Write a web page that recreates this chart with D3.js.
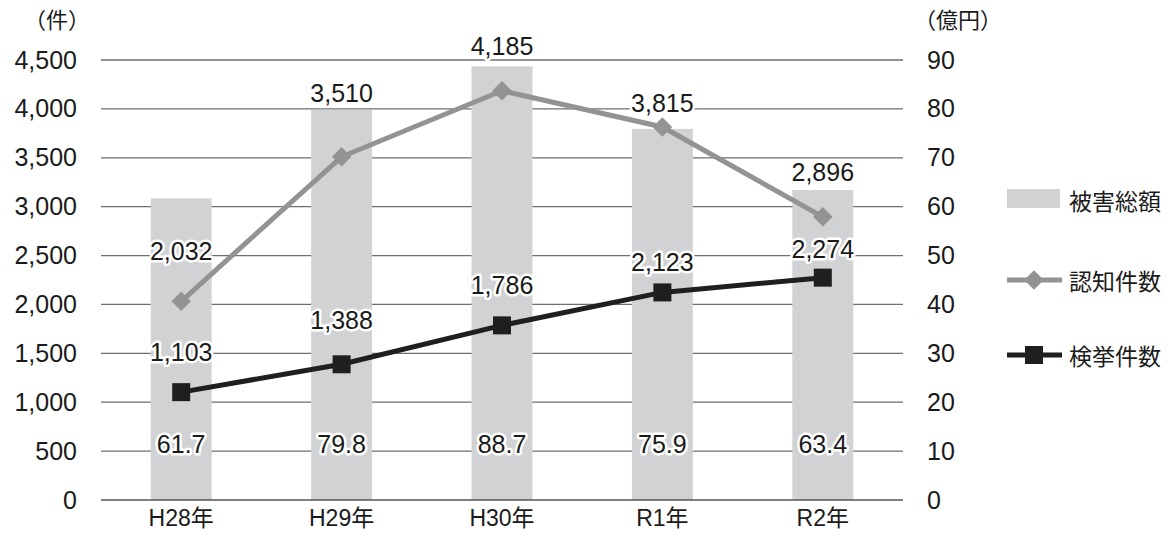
<!DOCTYPE html>
<html>
<head>
<meta charset="utf-8">
<script src="https://cdn.jsdelivr.net/npm/d3@7/dist/d3.min.js"></script>
<style>
  html, body { margin: 0; padding: 0; background: #fff; }
  svg { display: block; font-family: "Liberation Sans", Arial, "Noto Sans CJK JP", sans-serif; }
  .halo { paint-order: stroke; stroke: #fff; stroke-width: 5px; stroke-linejoin: round; }
</style>
</head>
<body>
<svg id="chart" width="1168" height="536"></svg>
<script>
// Years on the category axis
const years = ["H28年", "H29年", "H30年", "R1年", "R2年"];
// 被害総額 (億円), right axis
const damage = [61.7, 79.8, 88.7, 75.9, 63.4];
// 認知件数 (件), left axis
const recognized = [2032, 3510, 4185, 3815, 2896];
// 検挙件数 (件), left axis
const cleared = [1103, 1388, 1786, 2123, 2274];
// Axis ticks
const leftTicks = [0, 500, 1000, 1500, 2000, 2500, 3000, 3500, 4000, 4500];
const rightTicks = [0, 10, 20, 30, 40, 50, 60, 70, 80, 90];

// Vertical nudges for the value labels of each line
const recognizedLabelDy = [-50, -64, -45, -24, -45];
const clearedLabelDy = [-40, -44, -40, -30, -29];

const svg = d3.select("#chart");
const plot = { left: 101, right: 903, top: 60, bottom: 500 };
const jpFont = '"Noto Sans CJK JP", "Liberation Sans", sans-serif';
const numFont = '"Liberation Sans", Arial, sans-serif';
const mixFont = '"Liberation Sans", Arial, "Noto Sans CJK JP", sans-serif';
const ink = "#1a1a1a";

const x = d3.scaleBand().domain(years).range([plot.left, plot.right]).padding(0);
const yL = d3.scaleLinear().domain([0, 4500]).range([plot.bottom, plot.top]);
const yR = d3.scaleLinear().domain([0, 90]).range([plot.bottom, plot.top]);
const cx = d => x(d) + x.bandwidth() / 2;
const barW = x.bandwidth() * 0.38;
const fmt = d3.format(",");

// Horizontal gridlines
svg.append("g").selectAll("line").data(leftTicks.filter(t => t > 0)).join("line")
  .attr("x1", plot.left).attr("x2", plot.right)
  .attr("y1", d => yL(d)).attr("y2", d => yL(d))
  .attr("stroke", "#6e6e6e").attr("stroke-width", 1.3);

// Left axis labels
const leftAxis = d3.axisLeft(yL).tickValues(leftTicks).tickFormat(fmt).tickSize(0).tickPadding(24);
const gl = svg.append("g").attr("transform", `translate(${plot.left},0)`).call(leftAxis);
gl.select(".domain").remove();
gl.selectAll("text").attr("font-family", numFont).attr("font-size", 25).attr("fill", ink);

// Right axis labels
const rightAxis = d3.axisRight(yR).tickValues(rightTicks).tickSize(0).tickPadding(24);
const gr = svg.append("g").attr("transform", `translate(${plot.right},0)`).call(rightAxis);
gr.select(".domain").remove();
gr.selectAll("text").attr("font-family", numFont).attr("font-size", 25).attr("fill", ink)
  .attr("text-anchor", "start");

// Unit captions
svg.append("text").attr("x", 57).attr("y", 18).attr("text-anchor", "middle").attr("dominant-baseline", "central")
  .attr("font-family", jpFont).attr("font-size", 22).attr("fill", ink).text("（件）");
svg.append("text").attr("x", 958).attr("y", 18).attr("text-anchor", "middle").attr("dominant-baseline", "central")
  .attr("font-family", jpFont).attr("font-size", 22).attr("fill", ink).text("（億円）");

// Bars: 被害総額
svg.append("g").selectAll("rect").data(years).join("rect")
  .attr("x", (d) => cx(d) - barW / 2)
  .attr("width", barW)
  .attr("y", (d, i) => yR(damage[i]))
  .attr("height", (d, i) => plot.bottom - yR(damage[i]))
  .attr("fill", "#d1d2d4");

// Baseline
svg.append("line").attr("x1", plot.left).attr("x2", plot.right)
  .attr("y1", plot.bottom).attr("y2", plot.bottom)
  .attr("stroke", "#555").attr("stroke-width", 1.6);

// Category labels
svg.append("g").selectAll("text").data(years).join("text")
  .attr("x", d => cx(d)).attr("y", 518).attr("text-anchor", "middle").attr("dominant-baseline", "central")
  .attr("font-family", mixFont).attr("font-size", 23).attr("fill", ink).text(d => d);

// Line: 認知件数
const lineRec = d3.line().x((d, i) => cx(years[i])).y(d => yL(d));
svg.append("path").datum(recognized).attr("d", lineRec)
  .attr("fill", "none").attr("stroke", "#939393").attr("stroke-width", 5);
svg.append("g").selectAll("path").data(recognized).join("path")
  .attr("d", d3.symbol().type(d3.symbolSquare).size(190))
  .attr("transform", (d, i) => `translate(${cx(years[i])},${yL(d)}) rotate(45)`)
  .attr("fill", "#939393");

// Line: 検挙件数
const lineClr = d3.line().x((d, i) => cx(years[i])).y(d => yL(d));
svg.append("path").datum(cleared).attr("d", lineClr)
  .attr("fill", "none").attr("stroke", "#1f1f1f").attr("stroke-width", 5);
svg.append("g").selectAll("rect").data(cleared).join("rect")
  .attr("x", (d, i) => cx(years[i]) - 9).attr("y", d => yL(d) - 9)
  .attr("width", 18).attr("height", 18).attr("fill", "#1f1f1f");

// Value labels
const labels = svg.append("g").attr("font-family", numFont).attr("font-size", 25)
  .attr("fill", ink).attr("text-anchor", "middle").attr("dominant-baseline", "central");

labels.selectAll("text.rec").data(recognized).join("text").attr("class", "rec halo")
  .attr("x", (d, i) => cx(years[i])).attr("y", (d, i) => yL(d) + recognizedLabelDy[i])
  .text(d => fmt(d));

labels.selectAll("text.clr").data(cleared).join("text").attr("class", "clr halo")
  .attr("x", (d, i) => cx(years[i])).attr("y", (d, i) => yL(d) + clearedLabelDy[i])
  .text(d => fmt(d));

labels.selectAll("text.dmg").data(damage).join("text").attr("class", "dmg halo")
  .attr("x", (d, i) => cx(years[i])).attr("y", plot.bottom - 56)
  .text(d => d.toFixed(1));

// Legend
const legend = svg.append("g").attr("font-family", jpFont).attr("font-size", 23).attr("fill", ink);
legend.append("rect").attr("x", 1007).attr("y", 189).attr("width", 53).attr("height", 19).attr("fill", "#d1d2d4");
legend.append("text").attr("x", 1069).attr("y", 200).attr("dominant-baseline", "central").text("被害総額");

legend.append("line").attr("x1", 1007).attr("x2", 1062).attr("y1", 280).attr("y2", 280)
  .attr("stroke", "#939393").attr("stroke-width", 5);
legend.append("path").attr("d", d3.symbol().type(d3.symbolSquare).size(190))
  .attr("transform", "translate(1034,280) rotate(45)").attr("fill", "#939393");
legend.append("text").attr("x", 1069).attr("y", 280).attr("dominant-baseline", "central").text("認知件数");

legend.append("line").attr("x1", 1007).attr("x2", 1062).attr("y1", 355).attr("y2", 355)
  .attr("stroke", "#1f1f1f").attr("stroke-width", 5);
legend.append("rect").attr("x", 1025).attr("y", 346).attr("width", 18).attr("height", 18).attr("fill", "#1f1f1f");
legend.append("text").attr("x", 1069).attr("y", 355).attr("dominant-baseline", "central").text("検挙件数");
</script>
</body>
</html>
